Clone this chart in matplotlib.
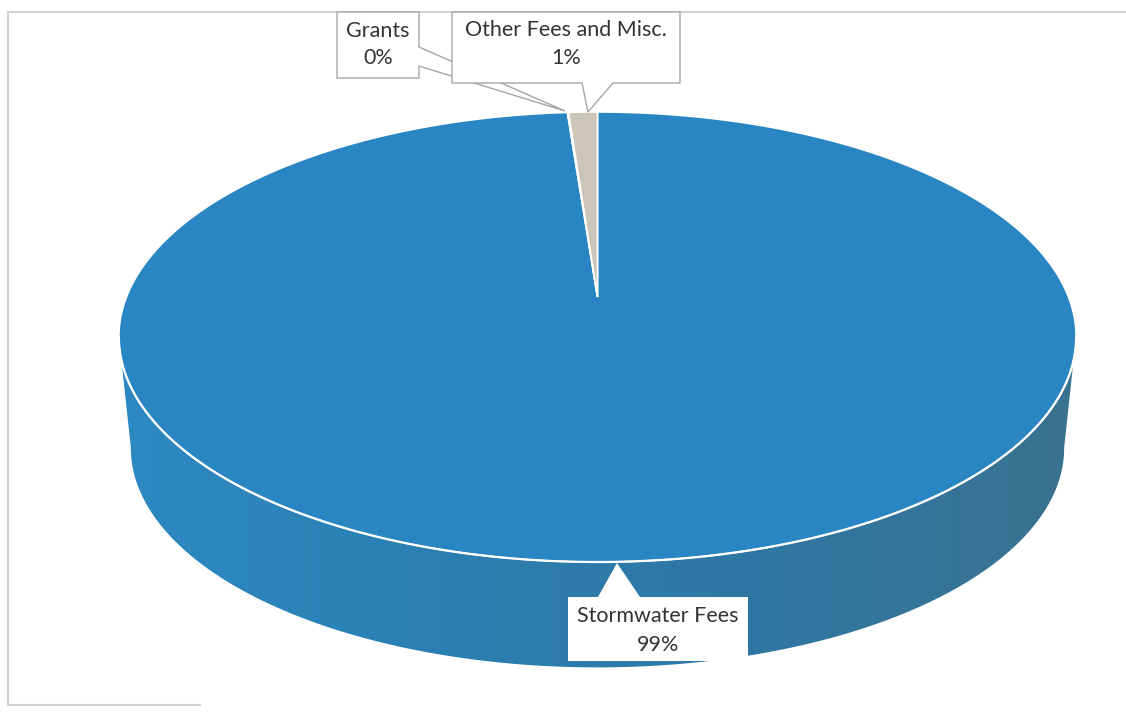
import numpy as np
import matplotlib.pyplot as plt
from matplotlib.patches import Polygon
from matplotlib.colors import LinearSegmentedColormap

# revenue share by source (percent)
labels = ["Stormwater Fees", "Grants", "Other Fees and Misc."]
values = [98.8, 0.05, 1.15]
colors = ["#2a86c2", "#e8803a", "#cbc5ba"]

# pie geometry in pixel units (y grows downward)
cx, cy = 597.5, 297.0
R, B, K = 471.0, 217.9, 0.1778
depth = 112.0
shrink = 0.975


def top_pt(theta, scale=1.0, dy=0.0):
    # theta measured clockwise from 12 o'clock, perspective-tilted disc
    u, v = np.sin(theta), np.cos(theta)
    w = 1 + K * v
    return cx + R * scale * u / w, cy + dy - B * scale * v / w


def pct(v):
    return f"{v:.0f}%"


fig = plt.figure(figsize=(11.26, 7.15), dpi=100)
ax = fig.add_axes([0, 0, 1, 1])
ax.set_xlim(0, 1126)
ax.set_ylim(715, 0)
ax.axis("off")

# chart area frame
frame_col = "#cdd3d3"
ax.plot([8, 1126], [12, 12], color=frame_col, lw=1.5)
ax.plot([8, 8], [12, 705], color=frame_col, lw=1.5)
ax.plot([8, 200], [705, 705], color=frame_col, lw=1.5)

# side wall: front arc of the top rim joined to the front arc of the bottom rim
th = np.linspace(0, 2 * np.pi, 720)
tx, ty = top_pt(th)
bx, by = top_pt(th, shrink, depth)
il, ir = np.argmin(tx), np.argmax(tx)
jl, jr = np.argmin(bx), np.argmax(bx)
front = (th >= th[ir]) & (th <= th[il])
bfront = (th >= th[jr]) & (th <= th[jl])
side_xy = np.vstack([
    np.column_stack([tx[front], ty[front]]),
    np.column_stack([bx[bfront][::-1], by[bfront][::-1]]),
])
side = Polygon(side_xy, closed=True, facecolor="none", edgecolor="none")
ax.add_patch(side)
grad = LinearSegmentedColormap.from_list("side", ["#2d89c2", "#2b7fb2", "#2f77a2", "#3a7290"])
im = ax.imshow(np.linspace(0, 1, 256)[None, :], cmap=grad, aspect="auto",
               extent=[tx.min(), tx.max(), 700, 250], zorder=1)
im.set_clip_path(side)

# top face wedges
bounds = np.concatenate([[0], np.cumsum(values)]) / sum(values) * 2 * np.pi
for i, c in enumerate(colors):
    t = np.linspace(bounds[i], bounds[i + 1], max(4, int(720 * values[i] / 100)))
    px, py = top_pt(t)
    pts = np.vstack([[cx, cy], np.column_stack([px, py])])
    ax.add_patch(Polygon(pts, closed=True, facecolor=c, edgecolor="white",
                         lw=1.2, joinstyle="miter", zorder=2))

# white rim along the front edge
ax.plot(tx[front], ty[front], color="white", lw=1.6, zorder=3)

# callouts
edge = "#a6a6a6"
txt = dict(family=["Lato", "DejaVu Sans"], fontsize=15.5, color="#333333",
           ha="center", va="center", zorder=6)

grants_shape = [(337, 12), (419, 12), (419, 47), (565, 111), (419, 66), (419, 78), (337, 78)]
ax.add_patch(Polygon(grants_shape, closed=True, facecolor="white", edgecolor=edge, lw=1, zorder=4))
ax.text(378, 31, labels[1], **txt)
ax.text(378, 58, pct(values[1]), **txt)

other_shape = [(452, 12), (680, 12), (680, 83), (613, 83), (588, 112), (582, 83), (452, 83)]
ax.add_patch(Polygon(other_shape, closed=True, facecolor="white", edgecolor=edge, lw=1, zorder=5))
ax.text(566, 30, labels[2], **txt)
ax.text(566, 58, pct(values[2]), **txt)

storm_shape = [(568, 597), (598, 597), (617, 563), (640, 597), (748, 597), (748, 661), (568, 661)]
ax.add_patch(Polygon(storm_shape, closed=True, facecolor="white", edgecolor="none", zorder=5))
ax.text(658, 616, labels[0], **txt)
ax.text(658, 645, pct(values[0]), **txt)

fig.savefig("out.png", dpi=100)
